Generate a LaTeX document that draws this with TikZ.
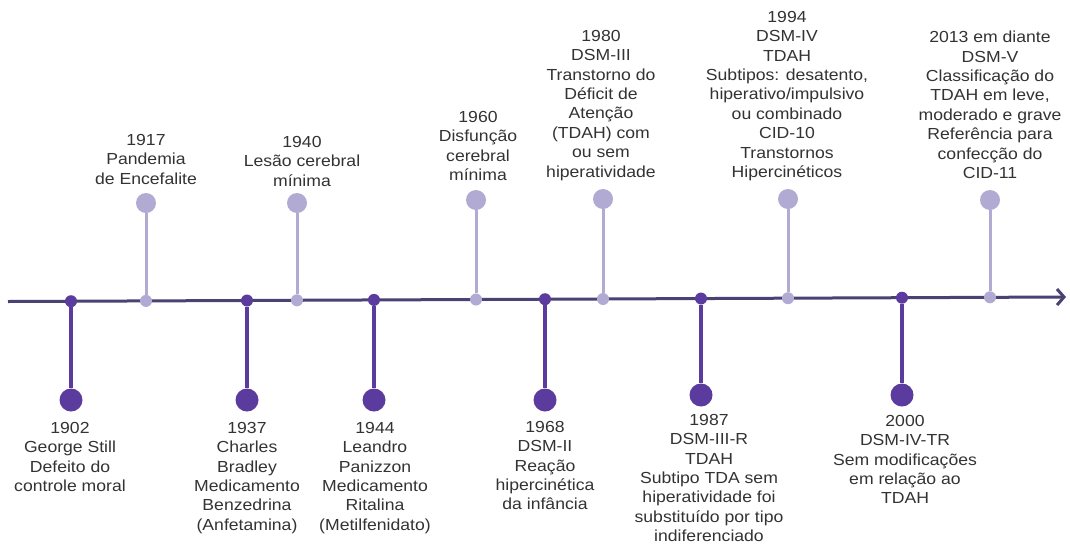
\documentclass[tikz,border=0pt]{standalone}
\usepackage{fontspec}
\setmainfont{Liberation Sans}[FakeStretch=1.1]
\usetikzlibrary{arrows.meta}
\definecolor{axiscol}{HTML}{4A4272}
\definecolor{lightp}{HTML}{B1ABD3}
\definecolor{darkp}{HTML}{5C3B9E}
\definecolor{txt}{HTML}{333333}
\begin{document}
\begin{tikzpicture}[x=1pt,y=-1pt,
  lbl/.style={align=center, inner sep=0pt, text=txt, font=\fontsize{16}{19.4}\selectfont, anchor=north},
  updot/.style={circle, fill=lightp, inner sep=0pt, minimum size=12pt},
  dndot/.style={circle, fill=darkp, inner sep=0pt, minimum size=12pt},
  upball/.style={circle, fill=lightp, inner sep=0pt, minimum size=20pt},
  dnball/.style={circle, fill=darkp, inner sep=0pt, minimum size=23pt},
  upstem/.style={draw=lightp, line width=3pt},
  dnstem/.style={draw=darkp, line width=3.2pt},
  axisline/.style={draw=axiscol, line width=3pt, -{Straight Barb[length=7pt,width=16pt]}}]
\fill[white] (0,0) rectangle (1070,544);
\useasboundingbox (0,0) rectangle (1070,544);

\coordinate (a0) at (8,301.5);
\coordinate (a1) at (1066,297);
\draw[axisline] (a0) -- (a1);

% lower events
\node[dndot] (d1902) at (71,301.2) {};
\node[dnball] (b1902) at (71,400) {};
\draw[dnstem] (d1902) -- (b1902);
\node[lbl] (t1902) at (70,422) {1902\\George Still\\Defeito do\\controle moral};

\node[dndot] (d1937) at (247,300.5) {};
\node[dnball] (b1937) at (247,400) {};
\draw[dnstem] (d1937) -- (b1937);
\node[lbl] (t1937) at (247,422) {1937\\Charles\\Bradley\\Medicamento\\Benzedrina\\(Anfetamina)};

\node[dndot] (d1944) at (374,299.9) {};
\node[dnball] (b1944) at (374,400) {};
\draw[dnstem] (d1944) -- (b1944);
\node[lbl] (t1944) at (375,422) {1944\\Leandro\\Panizzon\\Medicamento\\Ritalina\\(Metilfenidato)};

\node[dndot] (d1968) at (545,299.2) {};
\node[dnball] (b1968) at (545,400) {};
\draw[dnstem] (d1968) -- (b1968);
\node[lbl] (t1968) at (545,421) {1968\\DSM-II\\Reação\\hipercinética\\da infância};

\node[dndot] (d1987) at (701,298.5) {};
\node[dnball] (b1987) at (701,395) {};
\draw[dnstem] (d1987) -- (b1987);
\node[lbl] (t1987) at (709,414) {1987\\DSM-III-R\\TDAH\\Subtipo TDA sem\\hiperatividade foi\\substituído por tipo\\indiferenciado};

\node[dndot] (d2000) at (902,297.7) {};
\node[dnball] (b2000) at (902,395) {};
\draw[dnstem] (d2000) -- (b2000);
\node[lbl] (t2000) at (905,415) {2000\\DSM-IV-TR\\Sem modificações\\em relação ao\\TDAH};

% upper events
\node[updot] (d1917) at (146,300.9) {};
\node[upball] (b1917) at (146,203) {};
\draw[upstem] (d1917) -- (b1917);
\node[lbl] (t1917) at (146,134) {1917\\Pandemia\\de Encefalite};

\node[updot] (d1940) at (297,300.3) {};
\node[upball] (b1940) at (297,203) {};
\draw[upstem] (d1940) -- (b1940);
\node[lbl] (t1940) at (302,136) {1940\\Lesão cerebral\\mínima};

\node[updot] (d1960) at (476,299.5) {};
\node[upball] (b1960) at (476,200) {};
\draw[upstem] (d1960) -- (b1960);
\node[lbl] (t1960) at (478,111) {1960\\Disfunção\\cerebral\\mínima};

\node[updot] (d1980) at (603,299.0) {};
\node[upball] (b1980) at (603,199) {};
\draw[upstem] (d1980) -- (b1980);
\node[lbl] (t1980) at (601,30) {1980\\DSM-III\\Transtorno do\\Déficit de\\Atenção\\(TDAH) com\\ou sem\\hiperatividade};

\node[updot] (d1994) at (788,298.2) {};
\node[upball] (b1994) at (788,199) {};
\draw[upstem] (d1994) -- (b1994);
\node[lbl] (t1994) at (787,11) {1994\\DSM-IV\\TDAH\\Subtipos: desatento,\\hiperativo/impulsivo\\ou combinado\\CID-10\\Transtornos\\Hipercinéticos};

\node[updot] (d2013) at (990,297.3) {};
\node[upball] (b2013) at (990,200) {};
\draw[upstem] (d2013) -- (b2013);
\node[lbl] (t2013) at (990,31) {2013 em diante\\DSM-V\\Classificação do\\TDAH em leve,\\moderado e grave\\Referência para\\confecção do\\CID-11};
\end{tikzpicture}
\end{document}
